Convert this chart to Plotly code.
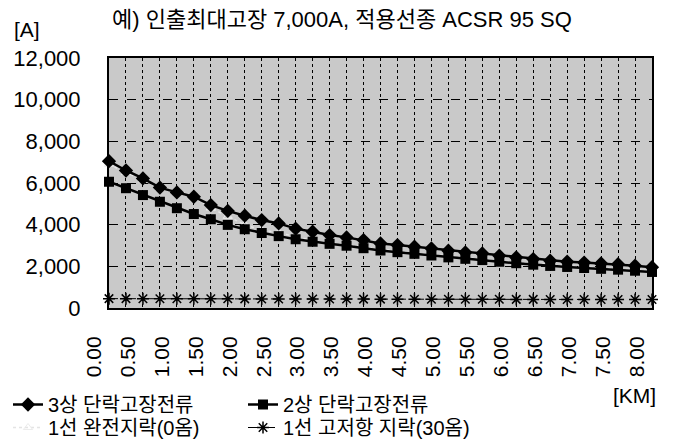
import plotly.graph_objects as go

# ---------------- data ----------------
km = [0.00, 0.25, 0.50, 0.75, 1.00, 1.25, 1.50, 1.75, 2.00, 2.25, 2.50, 2.75,
      3.00, 3.25, 3.50, 3.75, 4.00, 4.25, 4.50, 4.75, 5.00, 5.25, 5.50, 5.75,
      6.00, 6.25, 6.50, 6.75, 7.00, 7.25, 7.50, 7.75, 8.00]

three_phase = [7050, 6600, 6220, 5780, 5550, 5340, 4940, 4660, 4430, 4220, 4060, 3810,
               3660, 3500, 3390, 3260, 3100, 3020, 2940, 2860, 2750, 2670, 2620, 2510,
               2430, 2350, 2270, 2220, 2180, 2140, 2100, 2030, 1960]

two_phase = [6060, 5750, 5420, 5100, 4790, 4510, 4260, 3990, 3780, 3600, 3450, 3300,
             3180, 3080, 2990, 2870, 2760, 2680, 2600, 2520, 2430, 2360, 2300, 2220,
             2150, 2080, 2020, 1970, 1920, 1880, 1840, 1790, 1730]

slg_0ohm = [6900, 6500, 6150, 5750, 5550, 5340, 4800, 4400, 4000, 3740, 3620, 3420,
            3250, 3130, 3030, 2920, 2810, 2730, 2650, 2570, 2480, 2410, 2350, 2270,
            2200, 2130, 2070, 2020, 1970, 1930, 1890, 1840, 1780]

slg_30ohm = [450, 450, 448, 446, 445, 443, 441, 440, 438, 436, 435, 433,
             431, 430, 428, 427, 425, 424, 422, 421, 420, 418, 417, 416,
             414, 413, 412, 411, 410, 409, 408, 407, 406]

x_tickvals = [0.0, 0.5, 1.0, 1.5, 2.0, 2.5, 3.0, 3.5, 4.0, 4.5, 5.0, 5.5,
              6.0, 6.5, 7.0, 7.5, 8.0]
x_ticktext = ["0.00", "0.50", "1.00", "1.50", "2.00", "2.50", "3.00", "3.50", "4.00",
              "4.50", "5.00", "5.50", "6.00", "6.50", "7.00", "7.50", "8.00"]

names = ["3상 단락고장전류", "2상 단락고장전류", "1선 완전지락(0옴)", "1선 고저항 지락(30옴)"]

title_text = "예) 인출최대고장 7,000A, 적용선종 ACSR 95 SQ"

# ---------------- layout geometry ----------------
W, H = 673, 440
L, R, T, B = 109, 21, 58, 132
pw, ph = W - L - R, H - T - B


def px(x):
    return (x - L) / pw


def py(y):
    return (H - B - y) / ph


FONT = "Liberation Sans, Arial, 'Noto Sans CJK KR', sans-serif"

fig = go.Figure()

fig.add_trace(go.Scatter(
    x=km, y=slg_0ohm, name=names[2], mode="lines+markers",
    line=dict(color="#e4e4e4", width=1.5, dash="dot"),
    marker=dict(symbol="triangle-up-open", size=8, color="#ececec"),
    cliponaxis=False, legend="legend2"))

fig.add_trace(go.Scatter(
    x=km, y=three_phase, name=names[0], mode="lines+markers",
    line=dict(color="black", width=2.5),
    marker=dict(symbol="diamond", size=11, color="black"),
    cliponaxis=False, legend="legend"))

fig.add_trace(go.Scatter(
    x=km, y=two_phase, name=names[1], mode="lines+markers",
    line=dict(color="black", width=2.5),
    marker=dict(symbol="square", size=10, color="black"),
    cliponaxis=False, legend="legend"))

fig.add_trace(go.Scatter(
    x=km, y=slg_30ohm, name=names[3], mode="lines+markers",
    line=dict(color="black", width=1, dash="dash"),
    marker=dict(symbol="asterisk-open", size=10, color="black",
                line=dict(width=1.5, color="black")),
    cliponaxis=False, legend="legend2"))

fig.update_layout(
    width=W, height=H,
    margin=dict(l=L, r=R, t=T, b=B, autoexpand=False),
    paper_bgcolor="white",
    plot_bgcolor="#c9c9c9",
    font=dict(family=FONT, size=20, color="black"),
    showlegend=True,
    legend=dict(orientation="h", x=px(8), y=py(385), xanchor="left", yanchor="top",
                entrywidth=190, entrywidthmode="pixels",
                font=dict(size=20, family=FONT), bgcolor="rgba(0,0,0,0)",
                traceorder="normal"),
    legend2=dict(orientation="h", x=px(8), y=py(408), xanchor="left", yanchor="top",
                 entrywidth=190, entrywidthmode="pixels",
                 font=dict(size=20, family=FONT), bgcolor="rgba(0,0,0,0)",
                 traceorder="normal"),
)

fig.update_xaxes(
    range=[0, 8], tickvals=x_tickvals, ticktext=x_ticktext, tickangle=-90,
    ticklabelshift=-15, ticklabelstandoff=18,
    tickfont=dict(size=21, family=FONT),
    showgrid=True, gridcolor="black", griddash="dot", gridwidth=1,
    minor=dict(dtick=0.25, tick0=0, showgrid=True, gridcolor="black",
               griddash="dot", gridwidth=1),
    showline=True, linecolor="black", linewidth=2, mirror=True,
    zeroline=False, ticks="",
)

fig.update_yaxes(
    range=[0, 12000], dtick=2000, tickformat=",",
    tickfont=dict(size=22, family=FONT),
    showgrid=True, gridcolor="black", griddash="dash", gridwidth=1,
    showline=True, linecolor="black", linewidth=2, mirror=True,
    zeroline=False, ticks="inside", ticklen=5, tickcolor="black",
    ticklabelstandoff=22,
)

fig.add_annotation(text=title_text, xref="paper", yref="paper",
                   x=px(110), y=py(19), xanchor="left", yanchor="middle",
                   showarrow=False, font=dict(size=22, family=FONT))
fig.add_annotation(text="[A]", xref="paper", yref="paper",
                   x=px(12), y=py(30), xanchor="left", yanchor="middle",
                   showarrow=False, font=dict(size=21, family=FONT))
fig.add_annotation(text="[KM]", xref="paper", yref="paper",
                   x=px(658), y=py(396), xanchor="right", yanchor="middle",
                   showarrow=False, font=dict(size=21, family=FONT))

fig.write_html("out.html")
